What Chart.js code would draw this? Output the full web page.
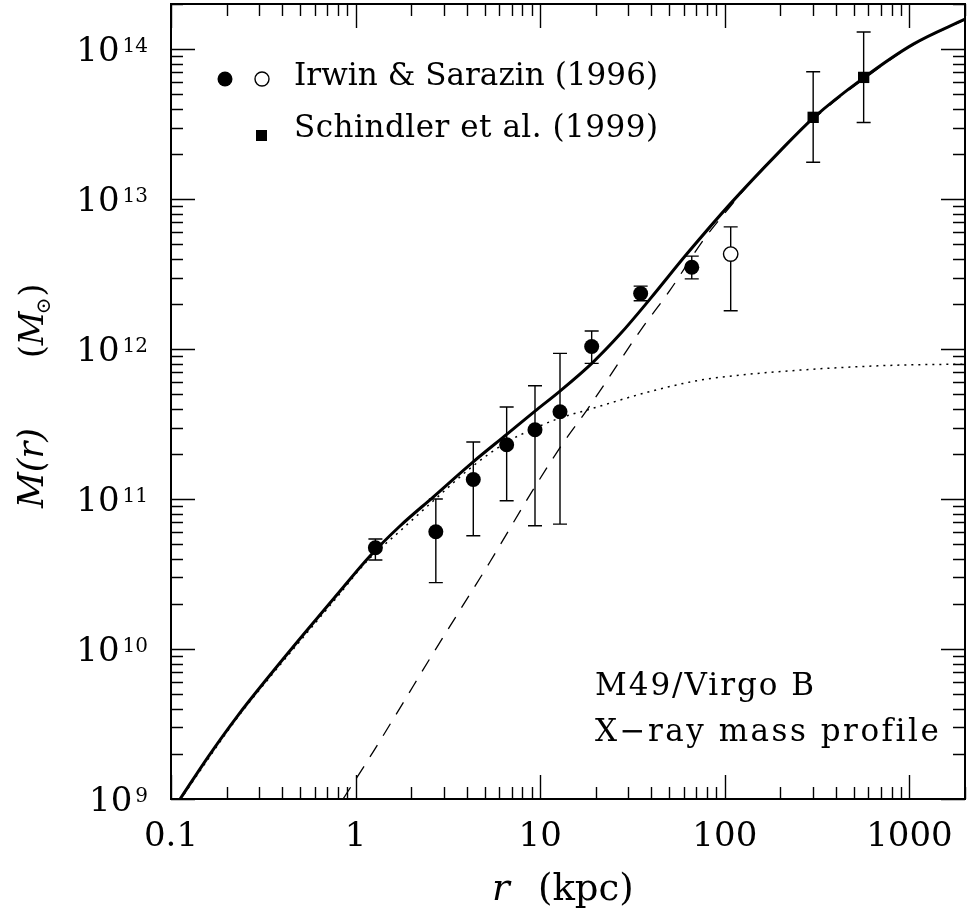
<!DOCTYPE html>
<html><head><meta charset="utf-8">
<script src="https://cdn.jsdelivr.net/npm/chart.js@4/dist/chart.umd.min.js"></script>
<style>html,body{margin:0;padding:0;background:#fff;} #wrap{width:967px;height:911px;}</style>
</head><body><div id="wrap"><canvas id="c" width="967" height="911"></canvas></div>
<script>
// ---- data ----
const irwinR  = [1.28, 2.72, 4.34, 6.58, 9.37, 12.8, 19.0, 35.0, 66.2];
const irwinM  = [4.73e10, 6.05e10, 1.35e11, 2.30e11, 2.90e11, 3.82e11, 1.04e12, 2.35e12, 3.51e12];
const irwinLo = [3.92e10, 2.77e10, 5.69e10, 9.75e10, 6.64e10, 6.81e10, 8.03e11, 2.10e12, 2.94e12];
const irwinHi = [5.41e10, 1.00e11, 2.40e11, 4.11e11, 5.69e11, 9.36e11, 1.32e12, 2.63e12, 4.17e12];
const irwinOpenR  = [107.6];
const irwinOpenM  = [4.30e12];
const irwinOpenLo = [1.80e12];
const irwinOpenHi = [6.53e12];
const schindlerR  = [301, 565];
const schindlerM  = [3.51e13, 6.48e13];
const schindlerLo = [1.76e13, 3.24e13];
const schindlerHi = [7.06e13, 1.30e14];
const totalR = [0.112, 0.1586, 0.227, 0.344, 0.519, 0.790, 1.197, 1.740, 2.63, 4.32, 6.61, 9.37, 12.8, 19.1, 27.1, 39.3, 62.2, 106.7, 199, 301, 562, 1050, 2000];
const totalM = [1.0e9, 1.905e9, 3.52e9, 6.71e9, 1.24e10, 2.29e10, 4.17e10, 6.61e10, 1.031e11, 1.765e11, 2.71e11, 3.86e11, 5.25e11, 8.07e11, 1.259e12, 2.154e12, 4.30e12, 9.26e12, 2.09e13, 3.47e13, 6.41e13, 1.08e14, 1.585e14];
const galaxyR = [0.112, 0.227, 0.344, 0.519, 0.790, 1.153, 1.740, 2.63, 4.32, 6.61, 9.37, 12.8, 17.9, 38.4, 73.4, 136.9, 255, 477, 890, 2000];
const galaxyM = [0.985e9, 3.44e9, 6.51e9, 1.193e10, 2.205e10, 3.86e10, 6.12e10, 9.70e10, 1.66e11, 2.40e11, 2.97e11, 3.47e11, 3.92e11, 5.17e11, 6.21e11, 6.81e11, 7.24e11, 7.59e11, 7.82e11, 7.94e11];
const darkR = [0.855, 1.247, 1.778, 2.53, 3.68, 5.35, 9.14, 13.3, 17.9, 35.5, 50.5, 76.5, 106.7, 161, 301, 562, 1050, 2000];
const darkM = [1.0e9, 2.07e9, 4.23e9, 8.66e9, 1.82e10, 3.82e10, 1.15e11, 2.36e11, 3.92e11, 1.37e12, 2.47e12, 5.33e12, 8.89e12, 1.61e13, 3.40e13, 6.28e13, 1.07e14, 1.57e14];
const xTickValues = [0.1, 1, 10, 100, 1000];
const xTickLabels = ['0.1', '1', '10', '100', '1000'];
const yTickExponents = [9, 10, 11, 12, 13, 14];
const legendLabels = ['Irwin & Sarazin (1996)', 'Schindler et al. (1999)'];
const noteLines = ['M49/Virgo B', 'X\u2212ray mass profile'];

const pts = (xs, ys) => xs.map((x, i) => ({x: x, y: ys[i]}));
const SERIF = '"DejaVu Serif", serif';

function logTicks(min, max) {
  const major = [], minor = [];
  for (let e = Math.floor(Math.log10(min)); e <= Math.ceil(Math.log10(max)); e++) {
    for (let k = 1; k < 10; k++) {
      const v = k * Math.pow(10, e);
      if (v < min * 0.999 || v > max * 1.001) continue;
      (k === 1 ? major : minor).push(v);
    }
  }
  return {major, minor};
}

// draw text stretched to a given width using letter spacing
function fitText(ctx, text, x, y, width) {
  ctx.letterSpacing = '0px';
  const w = ctx.measureText(text).width;
  const n = Array.from(text).length;
  const sp = n > 1 ? (width - w) / (n - 1) : 0;
  ctx.letterSpacing = sp.toFixed(2) + 'px';
  ctx.fillText(text, x, y);
  ctx.letterSpacing = '0px';
}

const errorBars = {
  id: 'errorBars',
  beforeDatasetsDraw(chart) {
    const ctx = chart.ctx, xs = chart.scales.x, ys = chart.scales.y;
    ctx.save();
    ctx.strokeStyle = '#000'; ctx.lineWidth = 1.4;
    chart.data.datasets.forEach(ds => {
      if (!ds.errLo) return;
      ds.data.forEach((p, i) => {
        const px = xs.getPixelForValue(p.x);
        const pl = ys.getPixelForValue(ds.errLo[i]);
        const ph = ys.getPixelForValue(ds.errHi[i]);
        ctx.beginPath();
        ctx.moveTo(px, pl); ctx.lineTo(px, ph);
        ctx.moveTo(px - 7, pl); ctx.lineTo(px + 7, pl);
        ctx.moveTo(px - 7, ph); ctx.lineTo(px + 7, ph);
        ctx.stroke();
      });
    });
    ctx.restore();
  }
};

const frameAndText = {
  id: 'frameAndText',
  afterDraw(chart) {
    const ctx = chart.ctx, xs = chart.scales.x, ys = chart.scales.y, a = chart.chartArea;
    ctx.save();
    ctx.strokeStyle = '#000'; ctx.fillStyle = '#000';
    // ticks on all four sides, pointing inward
    ctx.lineWidth = 1.4;
    const xt = logTicks(xs.min, xs.max), yt = logTicks(ys.min, ys.max);
    ctx.beginPath();
    [[xt.major, 24], [xt.minor, 12]].forEach(([arr, len]) => arr.forEach(v => {
      const px = Math.round(xs.getPixelForValue(v)) + 0.5;
      ctx.moveTo(px, a.bottom); ctx.lineTo(px, a.bottom - len);
      ctx.moveTo(px, a.top); ctx.lineTo(px, a.top + len);
    }));
    [[yt.major, 24], [yt.minor, 12]].forEach(([arr, len]) => arr.forEach(v => {
      const py = Math.round(ys.getPixelForValue(v)) + 0.5;
      ctx.moveTo(a.left, py); ctx.lineTo(a.left + len, py);
      ctx.moveTo(a.right, py); ctx.lineTo(a.right - len, py);
    }));
    ctx.stroke();
    // frame
    ctx.lineWidth = 2;
    ctx.strokeRect(a.left, a.top, a.right - a.left, a.bottom - a.top);

    // x tick labels
    ctx.font = '34px ' + SERIF;
    ctx.textAlign = 'center'; ctx.textBaseline = 'alphabetic';
    xTickValues.forEach((v, i) => {
      ctx.fillText(xTickLabels[i], xs.getPixelForValue(v), a.bottom + 47);
    });
    // y tick labels 10^n
    yTickExponents.forEach(e => {
      const py = ys.getPixelForValue(Math.pow(10, e));
      const right = a.left - 23;
      ctx.textAlign = 'right';
      ctx.font = '20px ' + SERIF;
      const ew = ctx.measureText(String(e)).width;
      ctx.fillText(String(e), right, py + 3);
      ctx.font = '34px ' + SERIF;
      ctx.fillText('10', right - ew - 3, py + 12);
    });

    // x axis title
    ctx.textAlign = 'left';
    ctx.font = 'italic 37px ' + SERIF;
    ctx.fillText('r', 492, 900);
    ctx.font = '37px ' + SERIF;
    ctx.fillText('(kpc)', 538, 900);

    // y axis title (rotated)
    ctx.save();
    ctx.translate(43, 508);
    ctx.rotate(-Math.PI / 2);
    ctx.textAlign = 'left';
    ctx.font = 'italic 35px ' + SERIF;
    ctx.fillText('M(r)', 0, 0);
    let u = 150;
    ctx.font = '33px ' + SERIF;
    ctx.fillText('(', u, 0); u += ctx.measureText('(').width;
    ctx.font = 'italic 33px ' + SERIF;
    ctx.fillText('M', u, 0); u += ctx.measureText('M').width;
    ctx.font = '20px ' + SERIF;
    ctx.fillText('\u2299', u - 3, 7); u += ctx.measureText('\u2299').width - 2;
    ctx.font = '33px ' + SERIF;
    ctx.fillText(')', u, 0);
    ctx.restore();

    // legend
    ctx.beginPath(); ctx.arc(225, 79, 7.5, 0, Math.PI * 2); ctx.fill();
    ctx.lineWidth = 1.4;
    ctx.beginPath(); ctx.arc(262, 79, 7, 0, Math.PI * 2); ctx.stroke();
    ctx.fillRect(256, 130, 11, 11);
    ctx.font = '31px ' + SERIF;
    ctx.textAlign = 'left';
    fitText(ctx, legendLabels[0], 294, 85, 364);
    fitText(ctx, legendLabels[1], 294, 137, 364);

    // annotation
    ctx.font = '31px ' + SERIF;
    fitText(ctx, noteLines[0], 595, 695, 219);
    fitText(ctx, noteLines[1], 595, 741, 343);
    ctx.restore();
  }
};

new Chart(document.getElementById('c').getContext('2d'), {
  type: 'scatter',
  data: {
    datasets: [
      { label: 'Irwin & Sarazin (1996)', data: pts(irwinR, irwinM), errLo: irwinLo, errHi: irwinHi,
        pointRadius: 7.5, pointBackgroundColor: '#000', pointBorderColor: '#000', pointBorderWidth: 0 },
      { label: 'Irwin & Sarazin (1996) outer', data: pts(irwinOpenR, irwinOpenM), errLo: irwinOpenLo, errHi: irwinOpenHi,
        pointRadius: 7.2, pointBackgroundColor: '#fff', pointBorderColor: '#000', pointBorderWidth: 1.4 },
      { label: 'Schindler et al. (1999)', data: pts(schindlerR, schindlerM), errLo: schindlerLo, errHi: schindlerHi,
        pointStyle: 'rect', pointRadius: 8, pointBackgroundColor: '#000', pointBorderColor: '#000', pointBorderWidth: 0 },
      { label: 'Total', data: pts(totalR, totalM), showLine: true, pointRadius: 0,
        borderColor: '#000', borderWidth: 3, cubicInterpolationMode: 'monotone' },
      { label: 'Galaxy', data: pts(galaxyR, galaxyM), showLine: true, pointRadius: 0,
        borderColor: '#000', borderWidth: 1.5, borderDash: [2, 5], cubicInterpolationMode: 'monotone' },
      { label: 'Dark matter', data: pts(darkR, darkM), showLine: true, pointRadius: 0,
        borderColor: '#000', borderWidth: 1.3, borderDash: [14, 11], cubicInterpolationMode: 'monotone' }
    ]
  },
  options: {
    responsive: false, animation: false, devicePixelRatio: 1,
    layout: { autoPadding: false, padding: { left: 171, right: 2, top: 4, bottom: 112 } },
    scales: {
      x: { type: 'logarithmic', min: 0.1, max: 2000, display: false },
      y: { type: 'logarithmic', min: 1e9, max: 2e14, display: false }
    },
    plugins: { legend: { display: false }, tooltip: { enabled: false } }
  },
  plugins: [errorBars, frameAndText]
});
</script></body></html>
